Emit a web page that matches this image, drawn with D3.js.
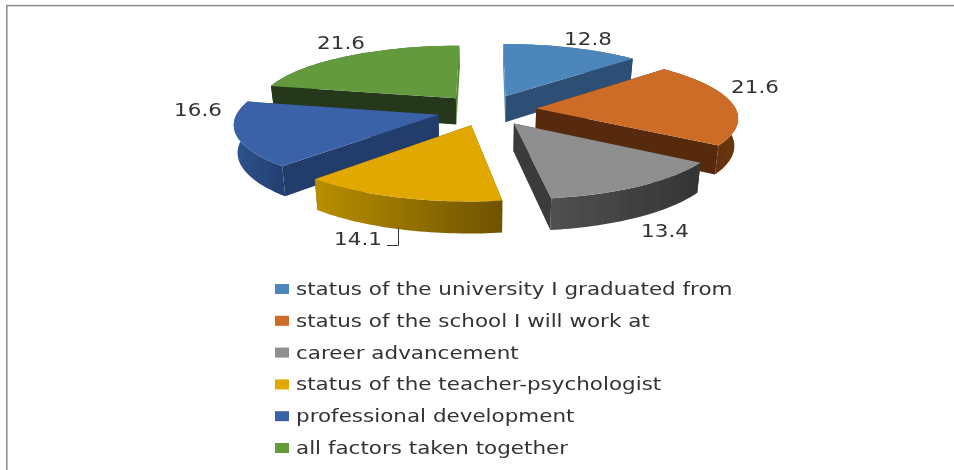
<!DOCTYPE html>
<html><head><meta charset="utf-8">
<script src="https://cdn.jsdelivr.net/npm/d3@7"></script>
<style>html,body{margin:0;padding:0;background:#fff}svg{display:block}</style>
</head><body><div id="chart"></div>
<script>
const categories = ["status of the university I graduated from","status of the school I will work at","career advancement","status of the teacher-psychologist","professional development","all factors taken together"];
const values = [12.8,21.6,13.4,14.1,16.6,21.6];
const topColors = ["#4e86bb","#cd6c28","#8f8f8f","#e0a800","#3a62a9","#629a3c"];
const startWallColors = ["#5f8fbc","#582c0e","#3b3b3b","#6e5300","#233c6c","#27391a"];
const endWallColors = ["#2e5075","#582c0e","#3b3b3b","#6e5300","#233c6c","#5a8a38"];
const outerFrom = ["#5f8fbc","#582c0e","#505050","#b88f00","#2e5490","#27391a"];
const outerTo = ["#2e5075","#6a3510","#343434","#6e5300","#233f70","#5a8a38"];
const drawOrder = [0,5,1,4,2,3];
const labelPos = [[588,39],[755,87],[665,231],[358,239],[198,110],[341,43]];

const W=954,H=470,cx=486.5,cy=110,A=200,B=62.1,k=0.128,E=0.25,D=27,M=0.985,SX=1.263;
const svg=d3.select("#chart").append("svg").attr("width",W).attr("height",H);
const defs=svg.append("defs");
defs.append("filter").attr("id","soft").attr("x","-5%").attr("y","-5%").attr("width","110%").attr("height","110%")
  .append("feGaussianBlur").attr("stdDeviation",0.4);
svg.append("rect").attr("x",6.8).attr("y",5.6).attr("width",W).attr("height",H).attr("fill","#fff").attr("stroke","#929292").attr("stroke-width",1.6);

const pie=d3.pie().sort(null).value(d=>d);
const arcs=pie(values);
function proj(x,y,bottom){
  const w=1/(1+k*y);
  const m=bottom?M:1;
  return [cx+A*x*w*m, cy-B*y*w+(bottom?D*w:0)];
}
const line=d3.line();
arcs.forEach((a,i)=>{
  const mid=(a.startAngle+a.endAngle)/2;
  a.mid=mid;
  a.ax=E*Math.sin(mid); a.ay=E*Math.cos(mid);
  a.pts=d3.range(0,41).map(j=>{
    const t=a.startAngle+(a.endAngle-a.startAngle)*j/40;
    return [a.ax+Math.sin(t),a.ay+Math.cos(t)];
  });
  const xs=a.pts.map(p=>proj(p[0],p[1],false)[0]);
  const g=defs.append("linearGradient").attr("id","g"+i).attr("gradientUnits","userSpaceOnUse")
    .attr("x1",d3.min(xs)).attr("x2",d3.max(xs)).attr("y1",0).attr("y2",0);
  g.append("stop").attr("offset","0%").attr("stop-color",outerFrom[i]);
  g.append("stop").attr("offset","100%").attr("stop-color",outerTo[i]);
});
const pies=svg.append("g").attr("filter","url(#soft)");
drawOrder.forEach(i=>{
  const a=arcs[i], apex=[a.ax,a.ay], first=a.pts[0], last=a.pts[a.pts.length-1];
  const quad=(p,q)=>[proj(p[0],p[1],false),proj(q[0],q[1],false),proj(q[0],q[1],true),proj(p[0],p[1],true)];
  const g=pies.append("g");
  const top=a.pts.map(p=>proj(p[0],p[1],false));
  const bot=a.pts.map(p=>proj(p[0],p[1],true)).reverse();
  const outer=()=>g.append("path").attr("d",line(top.concat(bot))+"Z").attr("fill",`url(#g${i})`);
  const back=Math.cos(a.mid)>0;
  if(back) outer();
  g.append("path").attr("d",line(quad(apex,first))+"Z").attr("fill",startWallColors[i]);
  g.append("path").attr("d",line(quad(apex,last))+"Z").attr("fill",endWallColors[i]);
  if(!back) outer();
  g.append("path").attr("d",line([proj(a.ax,a.ay,false)].concat(top))+"Z").attr("fill",topColors[i]);
});
const textG=svg.append("g").attr("filter","url(#soft)").attr("font-family","'DejaVu Sans',sans-serif").attr("fill","#333");
textG.selectAll("text.v").data(values).join("text").attr("class","v")
  .attr("transform",(d,i)=>`translate(${labelPos[i][0]},${labelPos[i][1]+6}) scale(${SX},1)`)
  .attr("text-anchor","middle").attr("font-size",17).text(d=>d.toFixed(1));
const y=d3.scalePoint().domain(categories).range([289,448]);
svg.append("path").attr("d",line([[387,245.5],[398.5,245.5],[398.5,228]])).attr("fill","none").attr("stroke","#333").attr("stroke-width",1);
svg.selectAll("rect.sw").data(categories).join("rect").attr("class","sw")
  .attr("x",275).attr("y",d=>y(d)-5).attr("width",14).attr("height",10).attr("fill",(d,i)=>topColors[i]);
textG.selectAll("text.l").data(categories).join("text").attr("class","l")
  .attr("transform",d=>`translate(296,${y(d)+6}) scale(${SX},1)`).attr("font-size",17).text(d=>d);
</script></body></html>
